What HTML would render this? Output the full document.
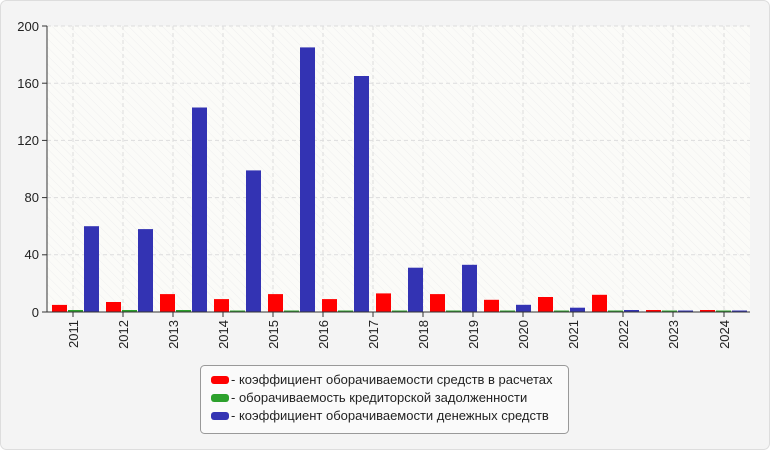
<!DOCTYPE html><html><head><style>body{margin:0;background:#fff}</style></head><body>
<svg width="770" height="450" xmlns="http://www.w3.org/2000/svg" font-family="Liberation Sans, sans-serif">
<defs><pattern id="h" width="6" height="6" patternUnits="userSpaceOnUse" patternTransform="rotate(-45)"><rect width="6" height="6" fill="#fbfbf8"/><line x1="0" y1="0" x2="0" y2="6" stroke="#efefef" stroke-width="1"/></pattern></defs>
<rect x="0.5" y="0.5" width="769" height="449" rx="6" fill="#f4f4f4" stroke="#ddd"/>
<rect x="47" y="26" width="703" height="286" fill="url(#h)"/>
<g stroke="#ddd" stroke-dasharray="4,3">
<line x1="47" x2="750" y1="26" y2="26"/><line x1="47" x2="750" y1="83.2" y2="83.2"/><line x1="47" x2="750" y1="140.4" y2="140.4"/><line x1="47" x2="750" y1="197.6" y2="197.6"/><line x1="47" x2="750" y1="254.8" y2="254.8"/>
<line x1="73" x2="73" y1="26" y2="312"/><line x1="123" x2="123" y1="26" y2="312"/><line x1="173" x2="173" y1="26" y2="312"/><line x1="223" x2="223" y1="26" y2="312"/><line x1="273" x2="273" y1="26" y2="312"/><line x1="323" x2="323" y1="26" y2="312"/><line x1="373" x2="373" y1="26" y2="312"/><line x1="423" x2="423" y1="26" y2="312"/><line x1="473" x2="473" y1="26" y2="312"/><line x1="523" x2="523" y1="26" y2="312"/><line x1="573" x2="573" y1="26" y2="312"/><line x1="623" x2="623" y1="26" y2="312"/><line x1="673" x2="673" y1="26" y2="312"/><line x1="724" x2="724" y1="26" y2="312"/>
</g>
<g fill="#f00">
<rect x="52" y="304.9" width="15" height="7.1"/><rect x="106" y="302" width="15" height="10"/><rect x="160" y="294.1" width="15" height="17.9"/><rect x="214" y="299.1" width="15" height="12.9"/><rect x="268" y="294.1" width="15" height="17.9"/><rect x="322" y="299.1" width="15" height="12.9"/><rect x="376" y="293.4" width="15" height="18.6"/><rect x="430" y="294.1" width="15" height="17.9"/><rect x="484" y="299.8" width="15" height="12.2"/><rect x="538" y="297" width="15" height="15"/><rect x="592" y="294.8" width="15" height="17.2"/><rect x="646" y="310" width="15" height="2"/><rect x="700" y="310" width="15" height="2"/>
</g>
<g fill="#2ca02c">
<rect x="68" y="310" width="15" height="2"/><rect x="122" y="310" width="15" height="2"/><rect x="176" y="310" width="15" height="2"/><rect x="230" y="310.5" width="15" height="1.5"/><rect x="284" y="310.5" width="15" height="1.5"/><rect x="338" y="310.5" width="15" height="1.5"/><rect x="392" y="310.5" width="15" height="1.5"/><rect x="446" y="310.5" width="15" height="1.5"/><rect x="500" y="310.5" width="15" height="1.5"/><rect x="554" y="310.5" width="15" height="1.5"/><rect x="608" y="310.5" width="15" height="1.5"/><rect x="662" y="310.5" width="15" height="1.5"/><rect x="716" y="310.5" width="15" height="1.5"/>
</g>
<g fill="#3333b3">
<rect x="84" y="226.2" width="15" height="85.8"/><rect x="138" y="229.1" width="15" height="82.9"/><rect x="192" y="107.5" width="15" height="204.5"/><rect x="246" y="170.4" width="15" height="141.6"/><rect x="300" y="47.4" width="15" height="264.6"/><rect x="354" y="76" width="15" height="236"/><rect x="408" y="267.7" width="15" height="44.3"/><rect x="462" y="264.8" width="15" height="47.2"/><rect x="516" y="304.8" width="15" height="7.2"/><rect x="570" y="307.7" width="15" height="4.3"/><rect x="624" y="310" width="15" height="2"/><rect x="678" y="310.5" width="15" height="1.5"/><rect x="732" y="310.5" width="15" height="1.5"/>
</g>
<line x1="47" y1="26" x2="47" y2="312" stroke="#333"/><line x1="42" y1="312" x2="750" y2="312" stroke="#333"/>
<g stroke="#333"><line x1="42" x2="47" y1="26" y2="26"/><line x1="42" x2="47" y1="83.2" y2="83.2"/><line x1="42" x2="47" y1="140.4" y2="140.4"/><line x1="42" x2="47" y1="197.6" y2="197.6"/><line x1="42" x2="47" y1="254.8" y2="254.8"/>
<line x1="73" x2="73" y1="312" y2="317"/><line x1="123" x2="123" y1="312" y2="317"/><line x1="173" x2="173" y1="312" y2="317"/><line x1="223" x2="223" y1="312" y2="317"/><line x1="273" x2="273" y1="312" y2="317"/><line x1="323" x2="323" y1="312" y2="317"/><line x1="373" x2="373" y1="312" y2="317"/><line x1="423" x2="423" y1="312" y2="317"/><line x1="473" x2="473" y1="312" y2="317"/><line x1="523" x2="523" y1="312" y2="317"/><line x1="573" x2="573" y1="312" y2="317"/><line x1="623" x2="623" y1="312" y2="317"/><line x1="673" x2="673" y1="312" y2="317"/><line x1="724" x2="724" y1="312" y2="317"/></g>
<g font-size="13" fill="#222" text-anchor="end"><text x="39" y="31">200</text><text x="39" y="88">160</text><text x="39" y="145">120</text><text x="39" y="202">80</text><text x="39" y="259">40</text><text x="39" y="317">0</text></g>
<g font-size="13" fill="#222" text-anchor="end">
<text transform="translate(78,320) rotate(-90)">2011</text><text transform="translate(128,320) rotate(-90)">2012</text><text transform="translate(178,320) rotate(-90)">2013</text><text transform="translate(228,320) rotate(-90)">2014</text><text transform="translate(278,320) rotate(-90)">2015</text><text transform="translate(328,320) rotate(-90)">2016</text><text transform="translate(378,320) rotate(-90)">2017</text><text transform="translate(428,320) rotate(-90)">2018</text><text transform="translate(478,320) rotate(-90)">2019</text><text transform="translate(528,320) rotate(-90)">2020</text><text transform="translate(578,320) rotate(-90)">2021</text><text transform="translate(628,320) rotate(-90)">2022</text><text transform="translate(678,320) rotate(-90)">2023</text><text transform="translate(729,320) rotate(-90)">2024</text>
</g>
<rect x="200.5" y="365.5" width="368" height="68" rx="4" fill="#fafafa" stroke="#999"/>
<rect x="211" y="376" width="18" height="8" rx="3" fill="#f00"/><rect x="211" y="394" width="18" height="8" rx="3" fill="#2ca02c"/><rect x="211" y="412" width="18" height="8" rx="3" fill="#3333b3"/>
<g font-size="13" fill="#222"><text x="231" y="384">- коэффициент оборачиваемости средств в расчетах</text><text x="231" y="402">- оборачиваемость кредиторской задолженности</text><text x="231" y="420">- коэффициент оборачиваемости денежных средств</text></g>
</svg></body></html>
